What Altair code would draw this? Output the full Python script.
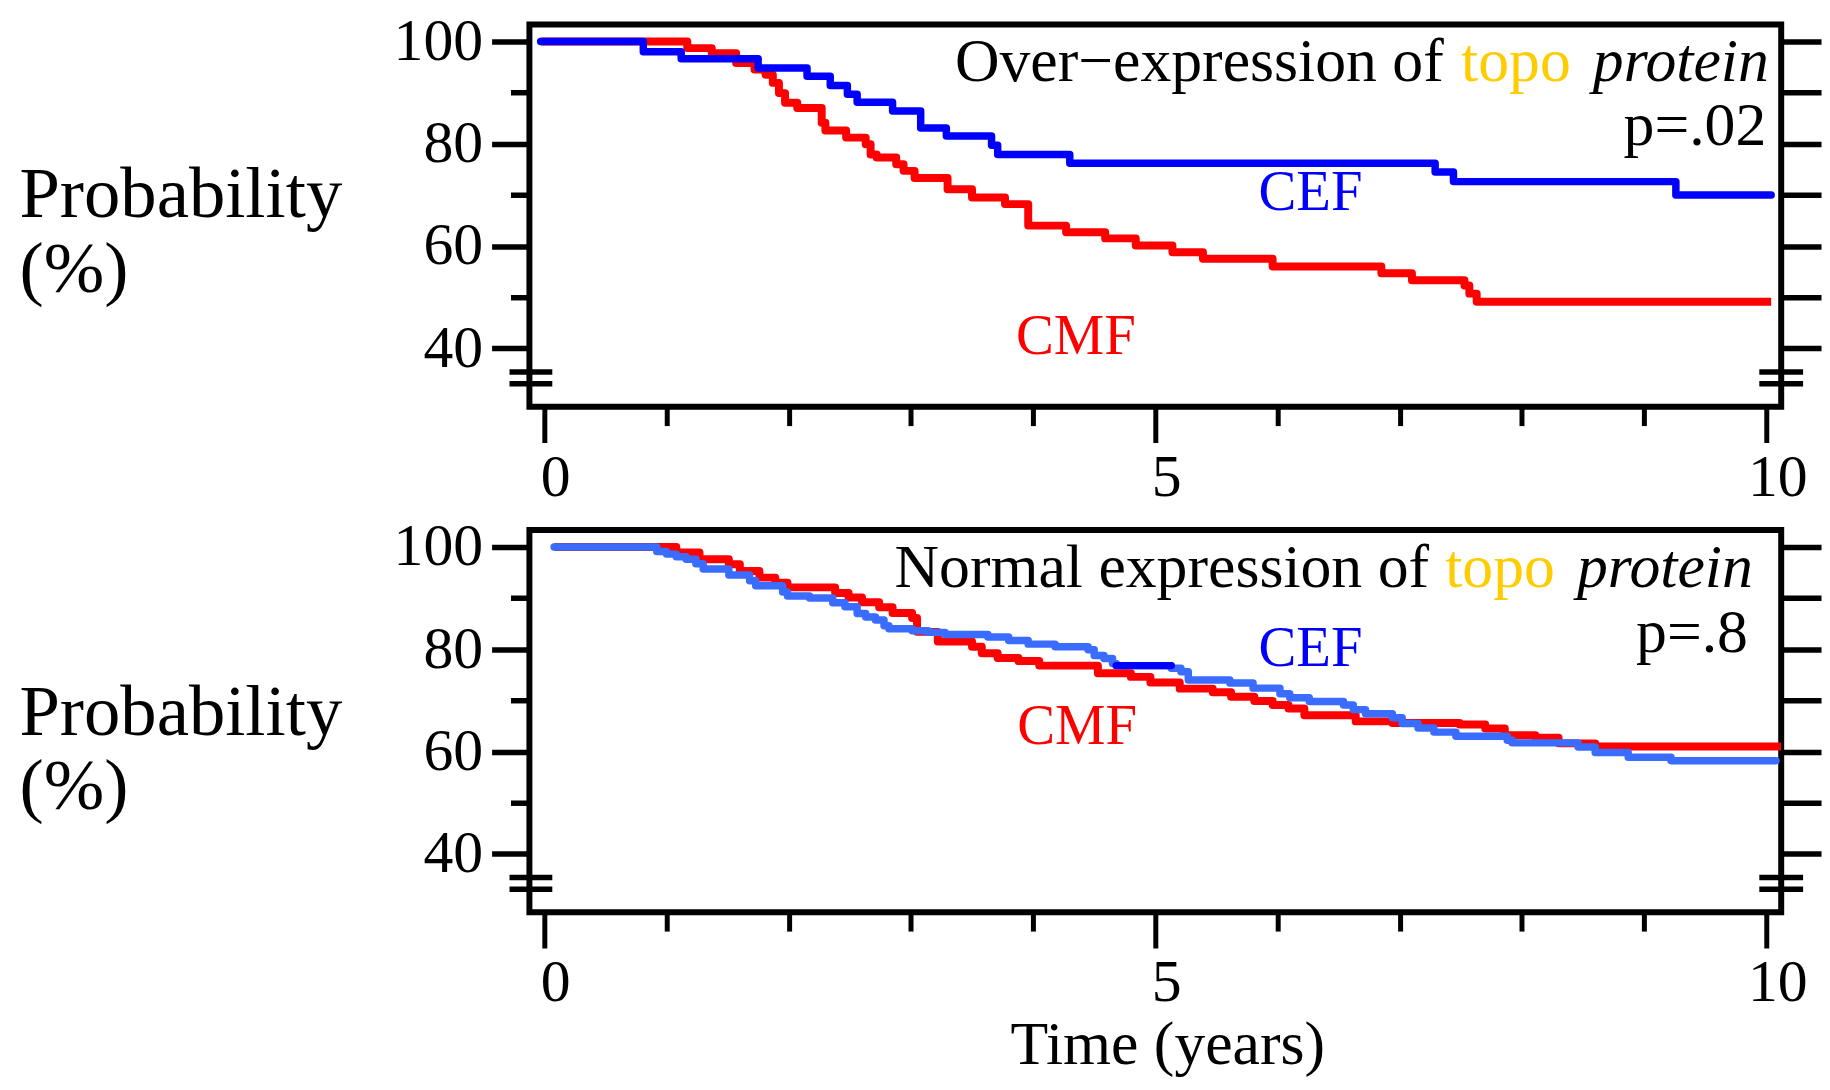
import altair as alt
import pandas as pd

FONT = "Liberation Serif"

# ---------------- data ----------------
# Top panel: over-expression
TOP_CEF_T = [-0.03, 0.81, 1.12, 1.75, 2.15, 2.34, 2.48, 2.56, 2.85, 3.08, 3.29, 3.66, 3.71, 4.30, 7.29, 7.44, 9.26, 10.04]
TOP_CEF_S = [100.0, 98.0, 96.6, 94.8, 93.2, 91.4, 89.7, 88.1, 86.4, 83.1, 81.5, 79.7, 77.9, 76.2, 74.5, 72.6, 70.0, 70.0]
TOP_CMF_T = [-0.03, 1.17, 1.37, 1.57, 1.72, 1.81, 1.87, 1.92, 1.97, 2.07, 2.27, 2.30, 2.47, 2.63, 2.67, 2.72,
             2.88, 2.94, 3.03, 3.30, 3.50, 3.77, 3.96, 4.27, 4.59, 4.84, 5.14, 5.39, 5.96, 6.85, 7.10, 7.53,
             7.57, 7.63, 10.04]
TOP_CMF_S = [100.0, 98.7, 97.7, 95.8, 94.5, 93.5, 91.9, 89.9, 88.0, 87.0, 84.1, 82.6, 81.2, 79.9, 77.9, 77.3,
             76.0, 74.7, 73.3, 71.1, 69.5, 68.2, 64.0, 62.7, 61.5, 60.1, 58.8, 57.5, 56.0, 54.7, 53.3, 52.3,
             50.7, 49.1, 49.1]

# Bottom panel: normal expression
BOT_CEF_T = [0.08, 0.92, 1.00, 1.08, 1.16, 1.24, 1.30, 1.51, 1.68, 1.73, 1.95, 1.99, 2.17, 2.36, 2.46, 2.56,
             2.63, 2.71, 2.78, 2.82, 3.01, 3.14, 3.28, 3.63, 3.80, 3.96, 4.18, 4.45, 4.50, 4.58, 4.65, 4.68,
             5.13, 5.21, 5.27, 5.61, 5.80, 6.02, 6.10, 6.26, 6.54, 6.62, 6.72, 6.94, 7.02, 7.15, 7.28, 7.46,
             7.88, 7.92, 8.46, 8.60, 8.87, 9.22, 10.08]
BOT_CEF_S = [100.0, 99.1, 98.6, 98.1, 97.6, 96.7, 95.7, 94.5, 93.4, 92.4, 91.2, 90.4, 90.0, 89.1, 88.3, 87.0,
             86.3, 85.7, 84.6, 84.0, 83.6, 83.3, 82.9, 82.4, 81.7, 81.0, 80.5, 79.9, 78.8, 78.2, 77.2, 76.8,
             76.3, 75.6, 74.0, 73.4, 72.4, 71.3, 70.5, 69.8, 69.1, 68.2, 67.4, 66.6, 65.5, 64.6, 63.8, 63.0,
             62.2, 61.7, 60.9, 59.8, 58.9, 58.2, 58.2]
BOT_CEF_DARK_T = [4.68, 5.13]
BOT_CEF_DARK_S = [76.8, 76.8]
BOT_CMF_T = [0.08, 1.08, 1.27, 1.51, 1.60, 1.76, 1.89, 1.99, 2.38, 2.49, 2.60, 2.74, 2.85, 3.01, 3.05, 3.22,
             3.50, 3.58, 3.71, 3.88, 4.05, 4.53, 4.80, 4.96, 5.20, 5.47, 5.62, 5.81, 5.96, 6.09, 6.22, 6.64,
             6.94, 7.49, 7.70, 7.86, 8.11, 8.30, 8.60, 10.12]
BOT_CMF_S = [100.0, 98.9, 97.6, 96.6, 95.3, 94.0, 93.0, 92.1, 91.0, 90.1, 89.2, 88.2, 87.1, 86.1, 83.4, 81.5,
             80.5, 79.2, 78.3, 77.7, 76.8, 75.3, 74.6, 73.5, 72.3, 71.6, 70.7, 69.9, 69.1, 68.4, 67.1, 65.9,
             65.6, 65.3, 64.5, 63.2, 62.7, 61.6, 61.0, 61.0]

# axes / labels
Y_TICKS = [40, 50, 60, 70, 80, 90, 100]
X_TICKS = [0, 1, 2, 3, 4, 5, 6, 7, 8, 9, 10]
BREAKS = [35.4, 33.1]
Y_TITLE = ["Probability", "(%)"]
X_TITLE = "Time (years)"

# annotations
TOP_HEAD_TEXT = ["Over\u2212expression of", "topo", "protein"]
TOP_HEAD_X = [7.36, 8.40, 10.02]
TOP_HEAD_Y = 92.2
TOP_P_TEXT = "p=.02"
TOP_P_POS = [10.0, 79.8]
TOP_CEF_LBL = [6.27, 67.1]
TOP_CMF_LBL = [4.35, 38.9]

BOT_HEAD_TEXT = ["Normal expression of", "topo", "protein"]
BOT_HEAD_X = [7.24, 8.27, 9.89]
BOT_HEAD_Y = 92.1
BOT_P_TEXT = "p=.8"
BOT_P_POS = [9.85, 79.5]
BOT_CEF_LBL = [6.27, 76.7]
BOT_CMF_LBL = [4.36, 61.4]

ARM_LABELS = ["CEF", "CMF"]

# ---------------- styling ----------------
X_DOMAIN = [-0.122, 10.122]
Y_DOMAIN = [28.6, 103.3]
W, H = 1258, 384
BLUE = "#0000ff"
LIGHT_BLUE = "#3a6cff"
RED = "#ff0000"
GOLD = "#ffcc00"

XS = alt.Scale(domain=X_DOMAIN, nice=False, zero=False)
YS = alt.Scale(domain=Y_DOMAIN, nice=False, zero=False)


def left_axis(title_y):
    return alt.Axis(
        orient="left",
        values=Y_TICKS,
        labelExpr="datum.value % 20 === 0 ? datum.label : ''",
        tickSize={"condition": {"test": "datum.value % 20 === 0", "value": 38}, "value": 19},
        tickWidth=5.5, tickColor="black", domain=False, grid=False,
        labelFont=FONT, labelFontSize=60, labelColor="black", labelPadding=9,
        labelOverlap=False, labelFlush=False,
        title=Y_TITLE, titleFont=FONT, titleFontSize=73, titleFontWeight="normal",
        titleColor="black", titleAngle=0, titleAlign="left", titleBaseline="alphabetic",
        titleX=-513, titleY=title_y, titleLineHeight=75,
    )


def right_axis():
    return alt.Axis(
        orient="right", values=Y_TICKS, labels=False, tickSize=40, tickWidth=5.5,
        tickColor="black", domain=False, grid=False, title=None,
    )


def bottom_axis(with_title):
    kw = dict(
        orient="bottom",
        values=X_TICKS,
        labelExpr="datum.value % 5 === 0 ? datum.label : ''",
        tickSize={"condition": {"test": "datum.value % 5 === 0", "value": 36}, "value": 19},
        tickWidth=5, tickColor="black", domain=False, grid=False,
        labelFont=FONT, labelFontSize=60, labelColor="black", labelPadding=6,
        labelOffset=11, labelOverlap=False, labelFlush=False,
    )
    if with_title:
        kw.update(title=X_TITLE, titleFont=FONT, titleFontSize=62, titleFontWeight="normal",
                  titleColor="black", titleBaseline="alphabetic", titleX=641, titleY=152)
    else:
        kw.update(title=None)
    return alt.Axis(**kw)


def curve(t, s, color, width, cap, x_axis=None, y_axis=None):
    df = pd.DataFrame({"t": t, "s": s})
    return alt.Chart(df).mark_line(
        interpolate="step-after", color=color, strokeWidth=width, strokeCap=cap, strokeJoin="round"
    ).encode(
        x=alt.X("t:Q", scale=XS, axis=x_axis),
        y=alt.Y("s:Q", scale=YS, axis=y_axis),
    )


def texts(xs, ys, labels, color, size, align, style="normal"):
    df = pd.DataFrame({"x": xs, "y": ys, "label": labels})
    return alt.Chart(df).mark_text(
        font=FONT, fontSize=size, color=color, align=align, baseline="alphabetic", fontStyle=style
    ).encode(
        x=alt.X("x:Q", scale=XS, axis=None),
        y=alt.Y("y:Q", scale=YS, axis=None),
        text="label:N",
    )


def breaks():
    df = pd.DataFrame({"b": BREAKS})
    left = alt.Chart(df).mark_rule(color="black", strokeWidth=5.5, strokeCap="butt").encode(
        y=alt.Y("b:Q", scale=YS, axis=None), x=alt.value(-20), x2=alt.value(23))
    right = alt.Chart(df).mark_rule(color="black", strokeWidth=5.5, strokeCap="butt").encode(
        y=alt.Y("b:Q", scale=YS, axis=None), x=alt.value(W - 22), x2=alt.value(W + 22))
    return [left, right]


def panel(cef_t, cef_s, cmf_t, cmf_s, cef_color, head_text, head_x, head_y,
          p_text, p_pos, cef_lbl, cmf_lbl, title_y, with_x_title, extra=None):
    red = curve(cmf_t, cmf_s, RED, 8, "butt", x_axis=bottom_axis(with_x_title), y_axis=left_axis(title_y))
    blue = curve(cef_t, cef_s, cef_color, 7.5, "round", x_axis=None, y_axis=right_axis())
    layers = [red, blue]
    if extra is not None:
        layers.append(extra)
    layers += [
        texts([head_x[0]], [head_y], [head_text[0]], "black", 62, "right"),
        texts([head_x[1]], [head_y], [head_text[1]], GOLD, 62, "right"),
        texts([head_x[2]], [head_y], [head_text[2]], "black", 62, "right", "italic"),
        texts([p_pos[0]], [p_pos[1]], [p_text], "black", 62, "right"),
        texts([cef_lbl[0]], [cef_lbl[1]], [ARM_LABELS[0]], BLUE, 57, "center"),
        texts([cmf_lbl[0]], [cmf_lbl[1]], [ARM_LABELS[1]], RED, 57, "center"),
    ]
    layers += breaks()
    return alt.layer(*layers).resolve_axis(x="independent", y="independent").properties(width=W, height=H)


top = panel(TOP_CEF_T, TOP_CEF_S, TOP_CMF_T, TOP_CMF_S, BLUE, TOP_HEAD_TEXT, TOP_HEAD_X, TOP_HEAD_Y,
            TOP_P_TEXT, TOP_P_POS, TOP_CEF_LBL, TOP_CMF_LBL, 193, False)

dark = curve(BOT_CEF_DARK_T, BOT_CEF_DARK_S, BLUE, 7.5, "round")
bottom = panel(BOT_CEF_T, BOT_CEF_S, BOT_CMF_T, BOT_CMF_S, LIGHT_BLUE, BOT_HEAD_TEXT, BOT_HEAD_X, BOT_HEAD_Y,
               BOT_P_TEXT, BOT_P_POS, BOT_CEF_LBL, BOT_CMF_LBL, 205, True, extra=dark)

chart = alt.vconcat(top, bottom, spacing=3).properties(
    padding={"left": 8, "top": -3, "right": -5, "bottom": 0},
    background="white",
).configure_view(stroke="black", strokeWidth=6)

chart.save("out.html", embed_options={"renderer": "svg", "actions": False})
